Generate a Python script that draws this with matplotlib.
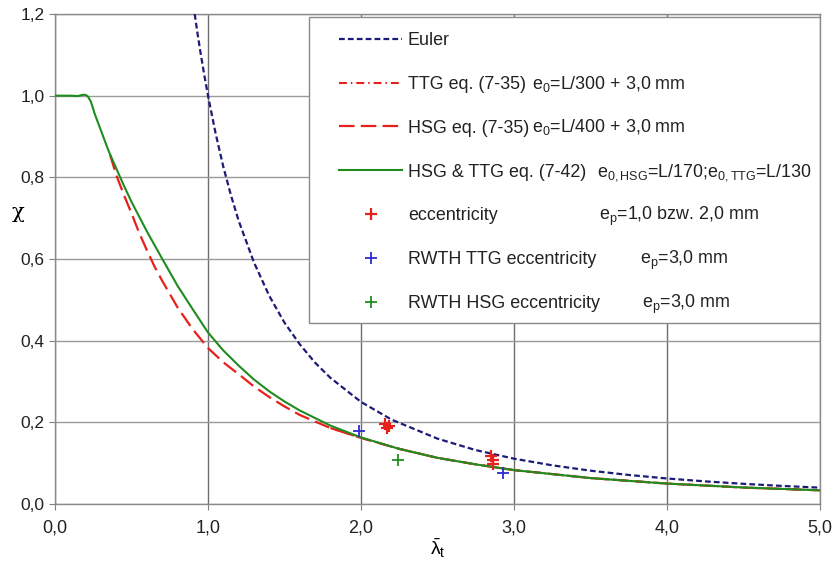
import matplotlib
matplotlib.use("Agg")
import matplotlib.pyplot as plt
from matplotlib.patches import Rectangle
from matplotlib.ticker import FuncFormatter

plt.rcParams['font.family'] = ['Liberation Sans', 'DejaVu Sans']
plt.rcParams['mathtext.fontset'] = 'custom'
plt.rcParams['mathtext.rm'] = 'Liberation Sans'
plt.rcParams['mathtext.it'] = 'Liberation Sans:italic'
plt.rcParams['mathtext.bf'] = 'Liberation Sans:bold'

# ---- data ----
euler_lam = [0.913, 0.93, 0.95, 0.975, 1.0, 1.05, 1.1, 1.15, 1.2, 1.3, 1.4, 1.5, 1.6, 1.7, 1.8,
             2.0, 2.2, 2.5, 2.75, 3.0, 3.25, 3.5, 3.75, 4.0, 4.25, 4.5, 4.75, 5.0]
euler_chi = [1.2, 1.156, 1.108, 1.052, 1.0, 0.907, 0.826, 0.756, 0.694, 0.592, 0.510, 0.444, 0.391,
             0.346, 0.309, 0.25, 0.2066, 0.16, 0.132, 0.111, 0.0947, 0.0816, 0.0711, 0.0625,
             0.0554, 0.0494, 0.0443, 0.04]

hsg_lam = [0.36, 0.40, 0.45, 0.5, 0.55, 0.6, 0.65, 0.7, 0.8, 0.9, 1.0, 1.1, 1.2, 1.3, 1.4, 1.5,
           1.6, 1.8, 2.0, 2.25, 2.5, 2.75, 3.0, 3.5, 4.0, 4.5, 5.0]
hsg_chi = [0.855, 0.806, 0.757, 0.712, 0.664, 0.622, 0.582, 0.547, 0.482, 0.428, 0.382, 0.347,
           0.318, 0.288, 0.262, 0.239, 0.218, 0.186, 0.162, 0.135, 0.113, 0.097, 0.083, 0.0635,
           0.050, 0.0402, 0.0335]

ttg_lam = [1.8, 2.0, 2.25, 2.5, 2.75, 3.0, 3.5, 4.0, 4.5, 5.0]
ttg_chi = [0.186, 0.162, 0.135, 0.113, 0.097, 0.083, 0.0635, 0.050, 0.0402, 0.0335]

eq742_lam = [0.0, 0.1, 0.15, 0.18, 0.2, 0.215, 0.235, 0.26, 0.3, 0.35, 0.4, 0.45, 0.5, 0.6, 0.7,
             0.8, 0.9, 1.0, 1.1, 1.2, 1.3, 1.4, 1.5, 1.6, 1.8, 2.0, 2.25, 2.5, 2.75, 3.0, 3.5,
             4.0, 4.5, 5.0]
eq742_chi = [1.0, 1.0, 0.999, 1.002, 1.002, 0.998, 0.985, 0.955, 0.915, 0.865, 0.822, 0.78, 0.74,
             0.668, 0.601, 0.535, 0.477, 0.42, 0.376, 0.339, 0.305, 0.276, 0.251, 0.229, 0.192,
             0.163, 0.135, 0.113, 0.097, 0.083, 0.0635, 0.050, 0.0405, 0.0335]

ecc_lam = [2.16, 2.18, 2.17, 2.85, 2.86, 2.86]
ecc_chi = [0.197, 0.190, 0.186, 0.118, 0.107, 0.097]
rwth_ttg_lam = [1.985, 2.93]
rwth_ttg_chi = [0.178, 0.077]
rwth_hsg_lam = [2.245]
rwth_hsg_chi = [0.108]

legend_main = ["Euler", "TTG eq. (7-35)", "HSG eq. (7-35)", "HSG & TTG eq. (7-42)",
               "eccentricity", "RWTH TTG eccentricity", "RWTH HSG eccentricity"]
legend_extra = [None,
                r"e$_0$=L/300 + 3,0 mm",
                r"e$_0$=L/400 + 3,0 mm",
                r"e$_\mathregular{0,HSG}$=L/170;e$_\mathregular{0,TTG}$=L/130",
                r"e$_\mathregular{p}$=1,0 bzw. 2,0 mm",
                r"e$_\mathregular{p}$=3,0 mm",
                r"e$_\mathregular{p}$=3,0 mm"]
xticks = [0, 1, 2, 3, 4, 5]
yticks = [0.0, 0.2, 0.4, 0.6, 0.8, 1.0, 1.2]

# ---- figure ----
W, H = 835, 566
fig = plt.figure(figsize=(W / 100, H / 100), dpi=100)
L, R, T, B = 55, 820, 14, 504
ax = fig.add_axes([L / W, 1 - B / H, (R - L) / W, (B - T) / H])
ax.set_xlim(0, 5)
ax.set_ylim(0, 1.2)

red = '#e8201c'
green = '#1e8c1e'
navy = '#1c1c78'
blue = '#2b2bd0'

h_e, = ax.plot(euler_lam, euler_chi, color=navy, lw=1.6, dashes=(2.6, 1.4), zorder=4)
h_t, = ax.plot(ttg_lam, ttg_chi, color=red, lw=1.5, dashes=(3.8, 1.9, 0.7, 1.9), zorder=3)
h_h, = ax.plot(hsg_lam, hsg_chi, color=red, lw=1.6, dashes=(7, 2.8), zorder=3)
h_g, = ax.plot(eq742_lam, eq742_chi, color=green, lw=1.5, zorder=3.5)
h_p1, = ax.plot(ecc_lam, ecc_chi, ls='none', marker='+', ms=9, mew=1.6, color=red, zorder=5)
h_p2, = ax.plot(rwth_ttg_lam, rwth_ttg_chi, ls='none', marker='+', ms=9, mew=1.3, color=blue, zorder=5)
h_p3, = ax.plot(rwth_hsg_lam, rwth_hsg_chi, ls='none', marker='+', ms=9, mew=1.3, color=green, zorder=5)

ax.set_xticks(xticks)
ax.set_yticks(yticks)
ax.xaxis.set_major_formatter(FuncFormatter(lambda v, p: f"{v:.1f}".replace('.', ',')))
ax.yaxis.set_major_formatter(FuncFormatter(lambda v, p: f"{v:.1f}".replace('.', ',')))
ax.tick_params(axis='both', direction='out', length=4, width=0.8, color='#808080',
               labelsize=12.5, labelcolor='#222222')
ax.tick_params(axis='x', pad=7, labelsize=13)

ax.grid(True, axis='x', color='#6e6e6e', lw=1.0, zorder=0)
ax.grid(True, axis='y', color='#9a9a9a', lw=1.0, zorder=0)
for s in ax.spines.values():
    s.set_color('#8a8a8a')
    s.set_linewidth(1.0)

ax.set_xlabel(r"$\mathregular{\bar{\lambda}_t}$", fontsize=14, labelpad=0)
ax.set_ylabel("χ", fontsize=15, rotation=0, family=['DejaVu Serif'])
ax.yaxis.set_label_coords((18 - L) / (R - L), (B - 222) / (B - T))

# legend frame
def ax_x(px):
    return (px - L) / (R - L)

def ax_y(py):
    return (B - py) / (B - T)

frame = Rectangle((ax_x(309), ax_y(323)), ax_x(820) - ax_x(309), ax_y(17) - ax_y(323),
                  transform=ax.transAxes, facecolor='white', edgecolor='#8a8a8a', lw=1.0,
                  zorder=2)
ax.add_patch(frame)

fs_leg = 12.9
leg = ax.legend([h_e, h_t, h_h, h_g, h_p1, h_p2, h_p3], legend_main, loc='upper left',
                bbox_to_anchor=(ax_x(339), ax_y(32)), bbox_transform=ax.transAxes,
                frameon=False, fontsize=fs_leg, handlelength=3.52, handletextpad=0.33,
                labelspacing=1.50, borderpad=0, borderaxespad=0, markerscale=0.9)
leg.set_zorder(6)
for t in leg.get_texts():
    t.set_color('#222222')

rows = [39, 83, 126, 170, 214, 258, 302]
xs = [None, 532, 532, 597, 599, 640, 642]
for s, x, y in zip(legend_extra, xs, rows):
    if s is None:
        continue
    fig.text(x / W, 1 - (y + 6.3) / H, s, fontsize=fs_leg, va='baseline', ha='left',
             color='#222222', zorder=7)

fig.savefig("out.png", dpi=100)
